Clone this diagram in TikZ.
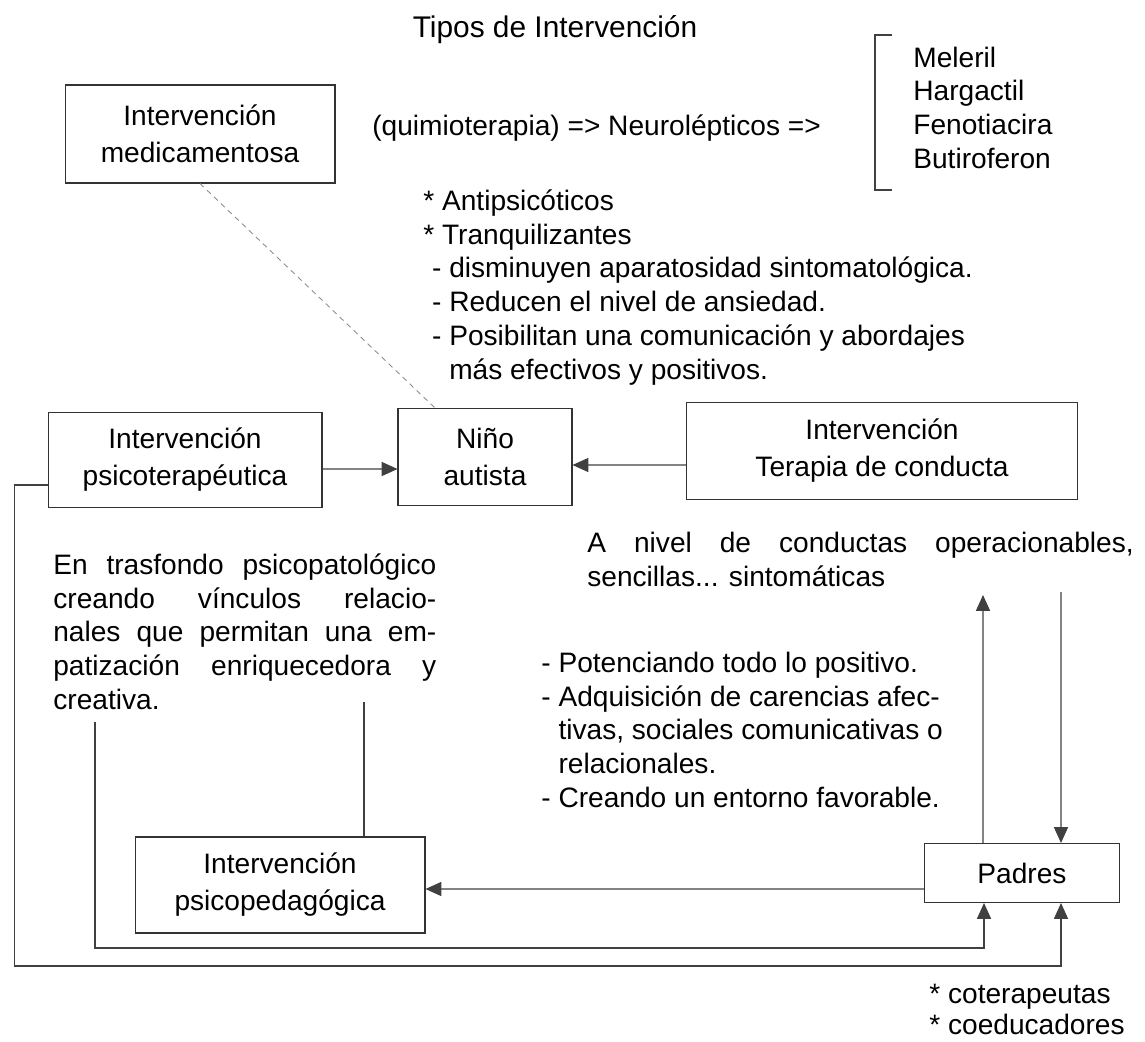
\documentclass[tikz,border=0pt]{standalone}
\usepackage{fontspec}
\setmainfont{Liberation Sans}
\usetikzlibrary{arrows.meta}

\newcommand\txtfont{\fontsize{16}{19.3}\selectfont}
\newcommand\cajafont{\fontsize{16}{21}\selectfont}

\tikzset{
  caja/.style={draw=black!80, line width=0.6pt, inner sep=2pt, align=center, font=\cajafont},
  flecha/.style={draw=black!75, line width=0.6pt, -{Triangle[length=9pt,width=8pt]}},
  linea/.style={draw=black!75, line width=0.6pt},
  punteado/.style={draw=black!45, line width=0.5pt, dash pattern=on 3pt off 2.5pt},
  texto/.style={inner sep=0pt, align=left, anchor=north west, font=\txtfont},
}

\begin{document}
\begin{tikzpicture}[x=0.02cm, y=-0.02cm]
	\useasboundingbox (0,0) rectangle (1145,1041);

	\node[font=\fontsize{17}{20}\selectfont] (titulo) at (555,30) {Tipos de Intervención};

	\node[caja, minimum width=5.4cm, minimum height=1.96cm] (med) at (200,134) {Intervención\\medicamentosa};
	\node[anchor=west, inner sep=0pt, font=\txtfont] (quimio) at (372,128) {(quimioterapia) => Neurolépticos =>};
	\draw[linea] (892,35) -- (875,35) -- (875,190) -- (892,190);
	\node[texto] (farmacos) at (913,43) {\strut Meleril\\Hargactil\\Fenotiacira\\Butiroferon};

	\node[texto] (efectos) at (423,186) {\strut * Antipsicóticos\\
		* Tranquilizantes\\
		\hspace*{5pt}- disminuyen aparatosidad sintomatológica.\\
		\hspace*{5pt}- Reducen el nivel de ansiedad.\\
		\hspace*{5pt}- Posibilitan una comunicación y abordajes\\
		\hspace*{5pt}\phantom{- }más efectivos y positivos.};

	\node[caja, minimum width=5.48cm, minimum height=1.9cm] (psico) at (185,460) {Intervención\\psicoterapéutica};
	\node[caja, minimum width=3.48cm, minimum height=1.94cm] (nino) at (485,457) {Niño\\autista};
	\node[caja, minimum width=7.82cm, minimum height=1.94cm] (terapia) at (882,451) {Intervención\\Terapia de conducta};

	\draw[punteado] (med.south) -- ([xshift=-1cm]nino.north);
	\draw[flecha] ([yshift=-0.18cm]psico.east) -- ([yshift=-0.24cm]nino.west);
	\draw[flecha] ([yshift=-0.28cm]terapia.west) -- ([yshift=-0.16cm]nino.east);

	\node[texto] (nivel) at (587,528) {\strut\makebox[311pt][s]{A nivel de conductas operacionables,}\\
		sencillas... sintomáticas};
	\node[texto] (trasfondo) at (53,550) {\strut\makebox[218pt][s]{En trasfondo psicopatológico}\\
		\makebox[218pt][s]{creando vínculos relacio-}\\
		\makebox[218pt][s]{nales que permitan una em-}\\
		\makebox[218pt][s]{patización enriquecedora y}\\
		creativa.};
	\node[texto] (potenciando) at (541,648) {\strut - Potenciando todo lo positivo.\\
		- Adquisición de carencias afec-\\
		\phantom{- }tivas, sociales comunicativas o\\
		\phantom{- }relacionales.\\
		- Creando un entorno favorable.};

	\node[caja, minimum width=5.8cm, minimum height=1.92cm] (psicoped) at (280,885) {Intervención\\psicopedagógica};
	\node[caja, minimum width=3.9cm, minimum height=1.18cm] (padres) at (1022,873) {Padres};

	\coordinate (sube) at (983,595);
	\coordinate (baja) at (1061,592);
	\coordinate (bajo1) at (95,722);
	\coordinate (bajo2) at (364,702);

	\draw[flecha] ([xshift=-0.78cm]padres.north) -- (sube);
	\draw[flecha] (baja) -- ([xshift=0.78cm]padres.north);
	\draw[flecha] ([yshift=-0.32cm]padres.west) -- ([yshift=-0.08cm]psicoped.east);
	\draw[linea] (bajo2) -- (bajo2 |- psicoped.north);
	\draw[flecha] (bajo1) -- ++(0,226) -| ([xshift=-0.76cm]padres.south);
	\draw[flecha] ([yshift=-0.5cm]psico.west) -- ++(-33,0) -- ++(0,481) -| ([xshift=0.78cm]padres.south);

	\node[texto, font=\fontsize{16}{15.9}\selectfont] (roles) at (929,984) {\strut * coterapeutas\\* coeducadores};
\end{tikzpicture}
\end{document}
